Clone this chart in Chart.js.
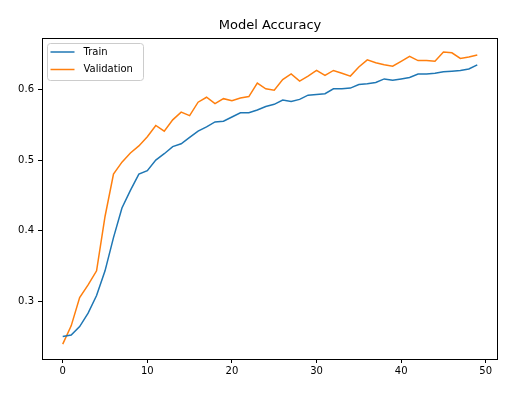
<!DOCTYPE html>
<html>
<head>
<meta charset="utf-8">
<script src="https://cdn.jsdelivr.net/npm/chart.js@4/dist/chart.umd.min.js"></script>
<style>
    body { margin: 0; background: #fff; }
    #wrap { width: 515px; height: 408px; }
</style>
</head>
<body>
<div id="wrap"><canvas id="chart" width="515" height="408"></canvas></div>
<script>
const epochs = [0, 1, 2, 3, 4, 5, 6, 7, 8, 9, 10, 11, 12, 13, 14, 15, 16, 17, 18, 19,
    20, 21, 22, 23, 24, 25, 26, 27, 28, 29, 30, 31, 32, 33, 34, 35, 36, 37, 38, 39,
    40, 41, 42, 43, 44, 45, 46, 47, 48, 49];

const trainAcc = [0.250, 0.252, 0.264, 0.283, 0.308, 0.343, 0.390, 0.432, 0.457, 0.480,
    0.485, 0.500, 0.509, 0.519, 0.523, 0.532, 0.541, 0.547, 0.554, 0.555,
    0.561, 0.567, 0.567, 0.571, 0.576, 0.579, 0.585, 0.583, 0.586, 0.592,
    0.593, 0.594, 0.601, 0.601, 0.602, 0.607, 0.608, 0.610, 0.615, 0.613,
    0.615, 0.617, 0.622, 0.622, 0.623, 0.625, 0.626, 0.627, 0.629, 0.635];

const valAcc = [0.239, 0.265, 0.305, 0.323, 0.343, 0.420, 0.480, 0.497, 0.510, 0.520,
    0.533, 0.549, 0.541, 0.557, 0.568, 0.563, 0.582, 0.589, 0.580, 0.587,
    0.584, 0.588, 0.590, 0.609, 0.601, 0.599, 0.614, 0.622, 0.612, 0.619,
    0.627, 0.620, 0.627, 0.623, 0.619, 0.632, 0.642, 0.638, 0.635, 0.633,
    0.640, 0.647, 0.641, 0.641, 0.640, 0.653, 0.652, 0.644, 0.646, 0.649];

const xTicks = [0, 10, 20, 30, 40, 50];
const yTicks = [0.3, 0.4, 0.5, 0.6];

const seriesNames = ["Train", "Validation"];
const seriesColors = ["#1f77b4", "#ff7f0e"];

function toPoints(ys) {
    return epochs.map((e, i) => ({ x: e, y: ys[i] }));
}

// frame round the plot + matplotlib style legend in the upper left
const framePlugin = {
    id: "frame",
    afterLayout(chart) {
        // center the title over the plot, not the whole canvas
        if (chart.titleBlock) {
            chart.titleBlock.left = chart.chartArea.left;
            chart.titleBlock.right = chart.chartArea.right;
        }
    },
    afterDatasetsDraw(chart) {
        let ctx = chart.ctx;
        let a = chart.chartArea;

        ctx.save();
        ctx.strokeStyle = "#000";
        ctx.lineWidth = 1;
        ctx.strokeRect(Math.round(a.left) + 0.5, Math.round(a.top) + 0.5,
            Math.round(a.right - a.left) - 1, Math.round(a.bottom - a.top));

        let bx = a.left + 5.5, by = a.top + 5.5, bw = 96, bh = 37, r = 3;
        ctx.beginPath();
        ctx.moveTo(bx + r, by);
        ctx.arcTo(bx + bw, by, bx + bw, by + bh, r);
        ctx.arcTo(bx + bw, by + bh, bx, by + bh, r);
        ctx.arcTo(bx, by + bh, bx, by, r);
        ctx.arcTo(bx, by, bx + bw, by, r);
        ctx.closePath();
        ctx.fillStyle = "rgba(255,255,255,0.8)";
        ctx.fill();
        ctx.strokeStyle = "#cccccc";
        ctx.stroke();

        ctx.font = "10px 'DejaVu Sans'";
        ctx.textBaseline = "middle";
        seriesNames.forEach((name, i) => {
            let y = by + 8.5 + i * 17.5;
            ctx.beginPath();
            ctx.moveTo(bx + 3, y);
            ctx.lineTo(bx + 27, y);
            ctx.strokeStyle = seriesColors[i];
            ctx.lineWidth = 1.5;
            ctx.stroke();
            ctx.fillStyle = "#000";
            ctx.fillText(name, bx + 36, y);
        });
        ctx.restore();
    }
};

new Chart(document.getElementById("chart").getContext("2d"), {
    type: "line",
    data: {
        datasets: seriesNames.map((name, i) => ({
            label: name,
            data: toPoints(i == 0 ? trainAcc : valAcc),
            borderColor: seriesColors[i],
            backgroundColor: seriesColors[i],
            borderWidth: 1.5,
            pointRadius: 0,
            tension: 0,
            fill: false
        }))
    },
    options: {
        responsive: false,
        animation: false,
        devicePixelRatio: 1,
        layout: { padding: { left: 0, right: 17, top: 0, bottom: 0 } },
        plugins: {
            legend: { display: false },
            tooltip: { enabled: false },
            title: {
                display: true,
                text: "Model Accuracy",
                color: "#000",
                font: { family: "'DejaVu Sans'", size: 13, weight: "normal" },
                padding: { top: 18, bottom: 4.4 }
            }
        },
        scales: {
            x: {
                type: "linear",
                min: -2.45,
                max: 51.45,
                afterBuildTicks(scale) {
                    scale.ticks = xTicks.map(v => ({ value: v }));
                },
                afterFit(scale) {
                    scale.height = 49;
                },
                border: { display: false },
                grid: { drawOnChartArea: false, drawTicks: true, tickLength: 4, color: "#000" },
                ticks: {
                    color: "#000",
                    padding: 2,
                    maxRotation: 0,
                    font: { family: "'DejaVu Sans'", size: 10 }
                }
            },
            y: {
                type: "linear",
                min: 0.218,
                max: 0.673,
                afterBuildTicks(scale) {
                    scale.ticks = yTicks.map(v => ({ value: v }));
                },
                afterFit(scale) {
                    scale.width = 42;
                },
                border: { display: false },
                grid: { drawOnChartArea: false, drawTicks: true, tickLength: 4, color: "#000" },
                ticks: {
                    color: "#000",
                    padding: 4,
                    font: { family: "'DejaVu Sans'", size: 10 },
                    callback: v => v.toFixed(1)
                }
            }
        }
    },
    plugins: [framePlugin]
});
</script>
</body>
</html>
